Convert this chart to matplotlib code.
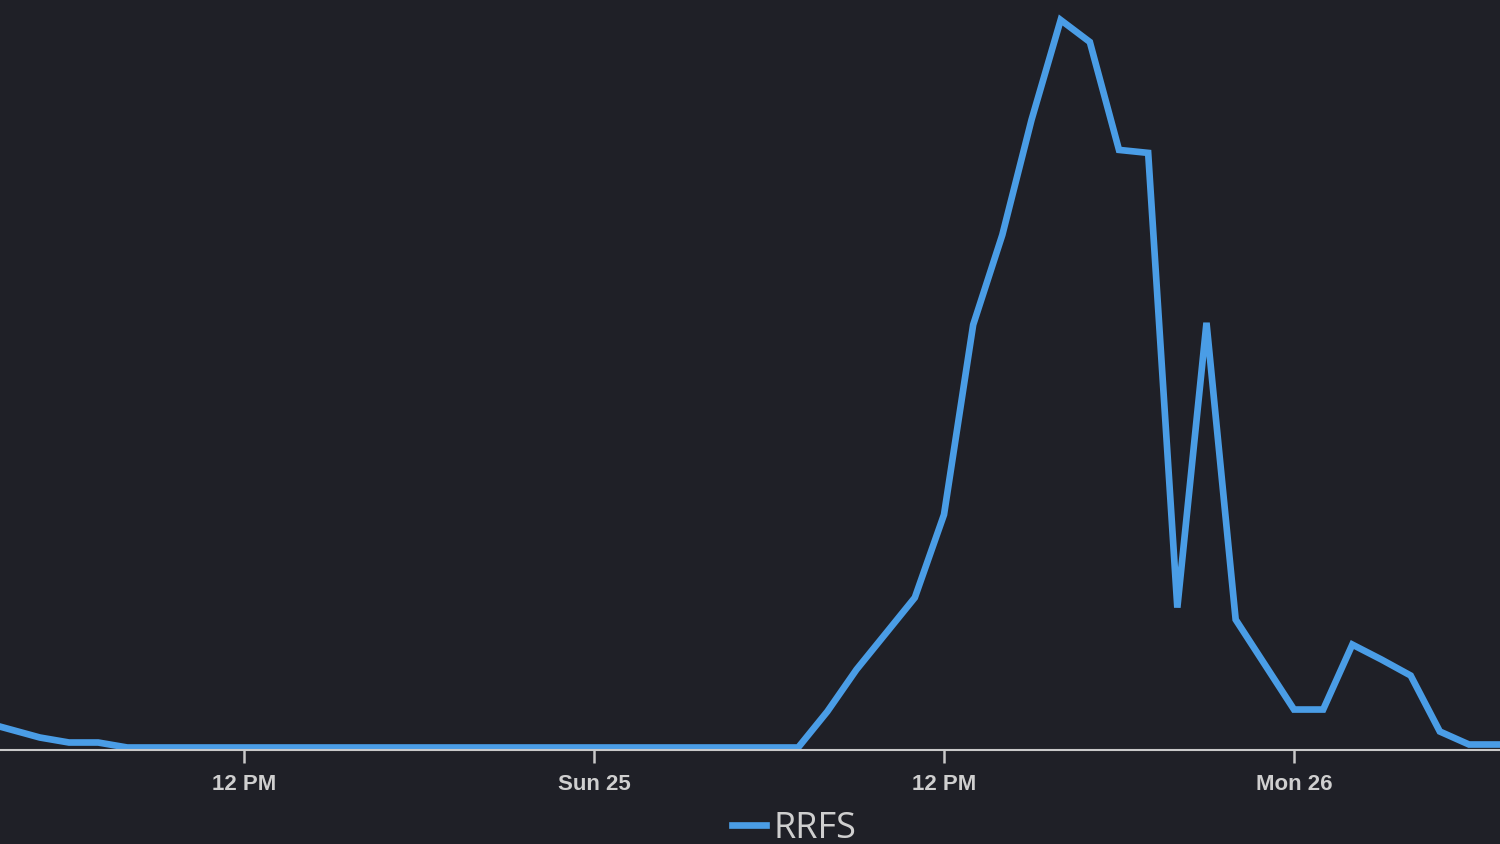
import matplotlib
matplotlib.use("Agg")
import matplotlib.pyplot as plt
import pandas as pd

# Hourly series (arbitrary units)
start_time = "2024-02-24 03:00"
values = [
    26, 18, 10, 5, 5, 0,                 # Sat 03..08
    0, 0, 0, 0, 0, 0, 0, 0, 0, 0, 0, 0, 0, 0, 0, 0,  # Sat 09..Sun 00
    0, 0, 0, 0, 0, 0, 0,                 # Sun 01..07
    36, 78, 114, 150, 233, 423, 513, 628, 728, 706, 598, 595,  # Sun 08..19
    140, 425, 128, 83, 38, 38, 103, 88, 72, 16, 3, 3, 3,       # Sun 20..Mon 08
]
times = pd.date_range(start_time, periods=len(values), freq="h")

tick_times = pd.to_datetime(["2024-02-24 12:00", "2024-02-25 00:00",
                             "2024-02-25 12:00", "2024-02-26 00:00"])
tick_labels = ["12 PM", "Sun 25", "12 PM", "Mon 26"]
series_name = "RRFS"

bg = "#1f2027"
line_color = "#4a9de6"
axis_color = "#c9c9c9"
text_color = "#cfcfcf"

fig = plt.figure(figsize=(15, 8.44), dpi=100, facecolor=bg)
ax = fig.add_axes([0, 1 - 750 / 844, 1, 750 / 844])
ax.set_facecolor(bg)

ax.plot(times, values, color=line_color, lw=4.8, solid_joinstyle="miter",
        label=series_name)

x0 = pd.Timestamp("2024-02-24 12:00") - pd.Timedelta(hours=244 / (350 / 12))
x1 = pd.Timestamp("2024-02-26 00:00") + pd.Timedelta(hours=206 / (350 / 12))
ax.set_xlim(x0, x1)
ax.set_ylim(-2.5, 748)

for s in ["top", "left", "right"]:
    ax.spines[s].set_visible(False)
ax.spines["bottom"].set_color(axis_color)
ax.spines["bottom"].set_linewidth(1.5)
ax.set_yticks([])
ax.set_xticks(tick_times)
ax.set_xticklabels(tick_labels, fontfamily="Liberation Sans", fontsize=16,
                   fontweight="bold", color=text_color)
ax.tick_params(axis="x", colors=axis_color, length=9, width=1.8, pad=8,
               labelcolor=text_color)

leg = fig.legend(loc="center", bbox_to_anchor=(794 / 1500, 1 - 829 / 844),
                 frameon=False, handlelength=0.95,
                 handletextpad=0.2, borderpad=0,
                 prop={"family": "Open Sans", "size": 26})
for t in leg.get_texts():
    t.set_color(text_color)
for h in leg.legend_handles:
    h.set_linewidth(4.8)

fig.savefig("out.png", dpi=100, facecolor=bg)
